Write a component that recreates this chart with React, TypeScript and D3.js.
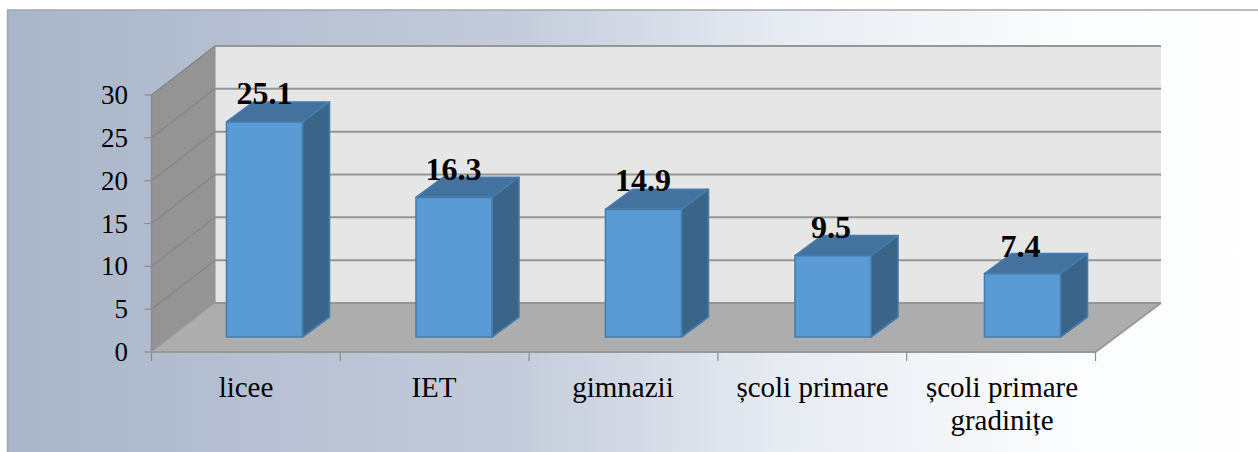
import React from "react";
import * as d3 from "d3";

const categories = ["licee", "IET", "gimnazii", "școli primare", "școli primare gradinițe"];
const categoryLines = [["licee"], ["IET"], ["gimnazii"], ["școli primare"], ["școli primare", "gradinițe"]];
const values = [25.1, 16.3, 14.9, 9.5, 7.4];
const valueLabels = ["25.1", "16.3", "14.9", "9.5", "7.4"];
const yTicks = [0, 5, 10, 15, 20, 25, 30];
const labelCenterX = [264.5, 453.5, 643, 831, 1020.5];
const labelY = [104, 180, 191, 238, 257];
const categoryCenterX = [246, 434, 623, 812.5, 1002];

const W = 1258, H = 452;
const FONT = "'Liberation Serif', 'Times New Roman', serif";
const x = d3.scaleBand<string>().domain(categories).range([151.5, 1095.5]);
const xBar = d3.scaleBand<string>().domain(categories).range([169.75, 1117.25]);
const y = d3.scaleLinear().domain([0, 30]).range([352, 95]);
const dx = 65.5, dy = -49;
const barDx = 27, barDy = -20;
const frontDy = -15;
const barW = 76;
const pts = (p: [number, number][]) => p.map(d => d.join(",")).join(" ");

export default function App() {
  const top = y(30), zero = y(0), left = x.range()[0], right = x.range()[1];
  return (
    <svg width={W} height={H} style={{ position: "absolute", left: 0, top: 0, display: "block" }} fontFamily={FONT}>
      <defs>
        <linearGradient id="bg" x1="0" y1="0" x2="1" y2="0">
          <stop offset="0" stopColor="#a9b5c9" />
          <stop offset="0.4" stopColor="#c4ccdb" />
          <stop offset="0.6" stopColor="#e6ebf2" />
          <stop offset="0.83" stopColor="#fbfcfd" />
          <stop offset="1" stopColor="#ffffff" />
        </linearGradient>
      </defs>
      <rect width={W} height={H} fill="#fff" />
      <rect x={7.5} y={10} width={W + 20} height={H + 20} fill="url(#bg)" stroke="#a6a6a6" strokeWidth={1.5} />
      <rect x={left + dx - 2} y={top + dy} width={right - left + 2} height={zero - top} fill="#e6e6e6" />
      <polygon points={pts([[left, top], [left + dx - 2, top + dy], [left + dx - 2, zero + dy], [left, zero]])} fill="#949494" stroke="#8c8c8c" />
      <polygon points={pts([[left, zero], [left + dx - 2, zero + dy], [right + dx, zero + dy], [right, zero]])} fill="#adadad" stroke="#a0a0a0" />
      {yTicks.map(t => (
        <g key={t} fill="none">
          {t === 0
            ? <polyline stroke="#989898" strokeWidth={1.8} points={pts([[left, y(t)], [right, y(t)], [right + dx, y(t) + dy]])} />
            : <>
                <line stroke="#868686" strokeWidth={1.2} x1={left} y1={y(t)} x2={left + dx - 2} y2={y(t) + dy} />
                <line stroke="#969696" strokeWidth={2} x1={left + dx - 2} y1={y(t) + dy} x2={right + dx} y2={y(t) + dy} />
              </>}
          <line stroke="#969696" strokeWidth={1.6} x1={left + dx - 2} x2={right + dx} y1={zero + dy} y2={zero + dy} />
        </g>
      ))}
      <line x1={left} x2={left} y1={top} y2={zero} stroke="#8c8c8c" strokeWidth={1.4} />
      {yTicks.map(t => (
        <g key={t}>
          <line x1={left - 7} x2={left} y1={y(t)} y2={y(t)} stroke="#8c8c8c" strokeWidth={1.2} />
          <text x={128} y={y(t) + 9} textAnchor="end" fontSize={27} fill="#000">{t}</text>
        </g>
      ))}
      {d3.range(categories.length + 1).map(i => {
        const tx = left + i * x.bandwidth();
        return <line key={i} x1={tx} x2={tx} y1={zero} y2={zero + 9} stroke="#8c8c8c" strokeWidth={1.2} />;
      })}
      {categories.map((c, i) => {
        const x0 = xBar(c)! + xBar.bandwidth() / 2 - barW / 2;
        const x1 = x0 + barW;
        const b = zero + frontDy;
        const t = y(values[i]) + frontDy;
        return (
          <g key={c} stroke="#477cab" strokeWidth={1.6} strokeLinejoin="round">
            <polygon points={pts([[x0, t], [x0 + barDx, t + barDy], [x1 + barDx, t + barDy], [x1, t]])} fill="#43729f" />
            <polygon points={pts([[x1, t], [x1 + barDx, t + barDy], [x1 + barDx, b + barDy], [x1, b]])} fill="#3a6589" />
            <rect x={x0} y={t} width={barW} height={b - t} fill="#5b9bd5" />
          </g>
        );
      })}
      {categories.map((c, i) => (
        <text key={c} x={labelCenterX[i]} y={labelY[i]} textAnchor="middle"
          fontSize={32} fontWeight="bold" fill="#000">{valueLabels[i]}</text>
      ))}
      {categories.map((c, i) => (
        <text key={c} textAnchor="middle" fontSize={29} fill="#000">
          {categoryLines[i].map((l, j) => (
            <tspan key={j} x={categoryCenterX[i]} y={397 + j * 33}>{l}</tspan>
          ))}
        </text>
      ))}
    </svg>
  );
}
